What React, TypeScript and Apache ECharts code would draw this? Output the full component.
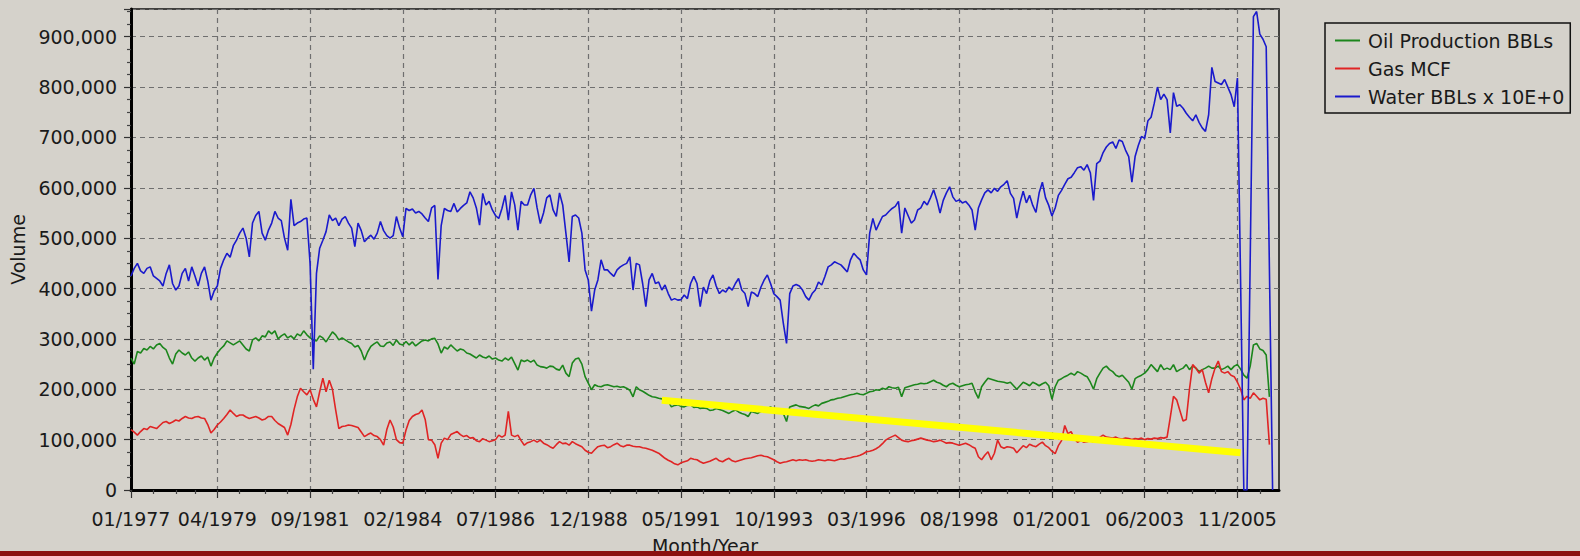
import React, { useEffect, useRef } from 'react';
import * as echarts from 'echarts';

// ---- categories / ticks ----
const START_YEAR = 1977;
const MONTH_COUNT = 360; // 01/1977 .. 12/2006
const MAJOR_TICKS = [0, 27, 56, 85, 114, 143, 172, 201, 230, 259, 288, 317, 346];
const MINOR_OFFSETS_FIRST = [7, 14, 20];
const MINOR_OFFSETS = [7, 15, 22];
const Y_MAX = 955; // thousands
const Y_STEP = 100;

// ---- series values (thousands), monthly from 01/1977 ----
const WATER = [
  425, 440, 450, 435, 430, 440, 443, 425, 420, 415,
  405, 430, 447, 410, 397, 405, 430, 440, 415, 443,
  425, 405, 430, 443, 415, 377, 395, 405, 440, 457,
  470, 462, 485, 496, 510, 520, 500, 463, 530, 545,
  553, 510, 496, 516, 530, 553, 540, 535, 500, 476,
  577, 525, 530, 533, 538, 540, 450, 240, 430, 480,
  496, 513, 546, 535, 540, 525, 538, 543, 530, 520,
  483, 530, 515, 493, 500, 506, 498, 510, 533, 515,
  505, 500, 505, 543, 520, 503, 559, 555, 558, 550,
  553, 548, 540, 533, 560, 565, 418, 525, 559, 555,
  553, 569, 552, 559, 565, 570, 592, 580, 560, 526,
  589, 566, 573, 556, 545, 539, 559, 585, 536, 592,
  566, 516, 573, 566, 566, 586, 599, 560, 529, 550,
  580, 586, 556, 543, 590, 566, 510, 453, 543, 546,
  540, 510, 437, 417, 355, 397, 417, 457, 437, 437,
  430, 424, 437, 443, 447, 450, 463, 397, 450, 447,
  410, 364, 417, 430, 410, 413, 397, 407, 390, 377,
  380, 377, 378, 387, 380, 410, 424, 410, 364, 403,
  390, 415, 427, 405, 390, 397, 393, 403, 397, 410,
  420, 397, 390, 364, 393, 390, 384, 403, 417, 427,
  410, 390, 384, 377, 331, 291, 390, 405, 408, 405,
  397, 384, 377, 390, 397, 413, 407, 424, 443, 447,
  453, 450, 447, 440, 433, 457, 470, 463, 457, 437,
  427, 510, 539, 516, 530, 543, 546, 553, 559, 563,
  573, 510, 560, 545, 530, 536, 556, 560, 573, 566,
  580, 596, 576, 550, 575, 590, 602, 582, 573, 576,
  570, 573, 566, 556, 516, 560, 576, 590, 596, 590,
  599, 593, 602, 607, 614, 589, 579, 540, 570, 593,
  570, 585, 565, 551, 590, 611, 580, 565, 544, 560,
  585, 595, 607, 618, 621, 630, 640, 642, 635, 646,
  630, 575, 648, 653, 670, 681, 688, 691, 678, 695,
  692, 675, 662, 611, 662, 684, 702, 698, 733, 740,
  768, 800, 775, 786, 775, 709, 789, 762, 765, 758,
  748, 740, 733, 745, 730, 719, 712, 745, 839, 811,
  808, 805, 815, 800, 785, 761, 818, 411, 0, 0,
  460, 940, 950, 905, 895, 880, 440, 0,
];

const OIL = [
  262, 250, 275, 272, 281, 278, 285, 280, 288, 291,
  283, 278, 262, 250, 270, 278, 272, 268, 274, 262,
  256, 262, 266, 258, 264, 246, 262, 272, 280, 286,
  296, 292, 288, 292, 296, 288, 280, 276, 298, 302,
  296, 306, 304, 316, 310, 316, 300, 306, 310, 302,
  306, 300, 310, 306, 316, 308, 302, 298, 296, 306,
  302, 294, 304, 314, 308, 298, 302, 298, 294, 291,
  284, 287, 276, 258, 274, 285, 290, 294, 286, 285,
  292, 294, 287, 298, 290, 288, 295, 288, 294, 286,
  291, 296, 298, 296, 300, 301, 290, 272, 284, 280,
  288, 282, 276, 280, 278, 272, 270, 266, 262, 268,
  264, 262, 266, 260, 262, 258, 256, 262, 258, 264,
  251, 238, 258, 255, 258, 254, 258, 248, 245, 244,
  242, 246, 245, 240, 238, 248, 232, 225, 252, 260,
  262, 250, 225, 212, 199, 209, 206, 205, 208, 209,
  207, 205, 206, 204, 205, 202, 198, 185, 205, 199,
  196, 192, 188, 185, 184, 182, 181, 179, 176, 165,
  168, 169, 166, 165, 168, 169, 164, 165, 162, 163,
  162, 158, 159, 162, 160, 158, 155, 152, 156, 159,
  155, 152, 150, 146, 156, 154, 152, 156, 159, 162,
  165, 160, 159, 156, 152, 136, 165, 167, 169, 166,
  165, 164, 162, 166, 169, 167, 172, 174, 176, 179,
  180, 182, 183, 185, 187, 189, 190, 192, 190, 189,
  192, 195, 196, 199, 198, 202, 200, 205, 203, 202,
  204, 185, 203, 205, 207, 209, 210, 212, 211, 212,
  215, 218, 214, 212, 208, 205, 210, 212, 208, 205,
  207, 209, 210, 212, 195, 182, 205, 214, 222, 220,
  218, 216, 215, 214, 212, 214, 207, 200, 207, 214,
  211, 207, 214, 211, 207, 211, 214, 207, 180, 205,
  218, 221, 225, 228, 232, 228, 235, 232, 228, 225,
  214, 200, 221, 232, 242, 246, 239, 235, 228, 225,
  228, 221, 214, 200, 221, 225, 228, 232, 239, 249,
  242, 235, 249, 239, 242, 239, 249, 235, 239, 242,
  249, 239, 246, 242, 235, 239, 242, 246, 242, 242,
  246, 239, 242, 246, 239, 246, 249, 240, 228, 222,
  246, 288, 291, 280, 277, 268, 185,
];

const GAS = [
  120, 115, 109, 116, 122, 120, 126, 124, 122, 128,
  134, 136, 132, 135, 139, 137, 142, 146, 143, 142,
  145, 146, 143, 142, 130, 113, 120, 129, 135, 142,
  150, 159, 152, 146, 149, 149, 145, 142, 144, 146,
  143, 139, 141, 146, 146, 138, 132, 128, 124, 109,
  130, 160, 185, 202, 195, 189, 199, 180, 165, 195,
  222, 195, 218, 200, 159, 122, 126, 127, 129, 128,
  126, 124, 115, 106, 110, 113, 108, 106, 100, 89,
  120, 139, 125, 100, 94, 93, 119, 138, 146, 150,
  152, 159, 140, 100, 99, 90, 63, 93, 103, 100,
  110, 113, 116, 110, 106, 108, 103, 104, 98, 96,
  102, 99, 96, 98, 100, 109, 105, 109, 156, 109,
  106, 109, 98, 89, 94, 96, 99, 95, 99, 93,
  90, 86, 83, 90, 96, 92, 93, 89, 96, 92,
  89, 86, 79, 75, 73, 80, 86, 88, 89, 84,
  86, 90, 93, 88, 86, 89, 89, 87, 86, 86,
  84, 83, 81, 79, 76, 73, 68, 63, 59, 56,
  52, 50, 54, 56, 58, 63, 61, 60, 56, 53,
  55, 57, 60, 63, 58, 56, 60, 63, 58, 56,
  58, 60, 62, 63, 64, 66, 68, 69, 67, 66,
  63, 60, 56, 53, 55, 56, 58, 60, 58, 60,
  59, 60, 58, 57, 58, 60, 59, 58, 60, 59,
  58, 60, 62, 61, 63, 64, 66, 67, 69, 72,
  76, 77, 79, 82, 86, 92, 99, 103, 106, 109,
  104, 99, 97, 96, 98, 99, 101, 103, 101, 99,
  98, 96, 97, 99, 96, 93, 94, 93, 91, 89,
  91, 93, 90, 86, 83, 66, 60, 69, 76, 60,
  73, 99, 86, 83, 86, 85, 83, 74, 81, 88,
  84, 91, 88, 86, 91, 95, 88, 84, 77, 72,
  88, 98, 128, 112, 116, 102, 95, 98, 95, 96,
  98, 95, 102, 105, 109, 105, 104, 103, 105, 102,
  101, 103, 102, 100, 102, 101, 103, 100, 102, 101,
  103, 102, 104, 103, 105, 144, 186, 179, 158, 137,
  140, 200, 249, 242, 232, 239, 214, 193, 221, 242,
  256, 235, 232, 235, 228, 225, 214, 200, 179, 186,
  182, 193, 186, 179, 182, 180, 90,
];

// highlighted trend annotation: [month index, value in thousands]
const TREND_LINE = [
  [166, 178],
  [347, 74],
];

const SERIES_NAMES = ['Oil Production BBLs', 'Gas MCF', 'Water BBLs x 10E+0'];
const COLORS = { oil: '#1C861C', gas: '#E02424', water: '#1A1ACC', trend: '#FFFF00' };

const FONT = "'DejaVu Sans', Verdana, sans-serif";
const FONT_SIZE = 19;
const BG = '#D5D2CB';

const categories: string[] = [];
for (let i = 0; i < MONTH_COUNT; i++) {
  const m = (i % 12) + 1;
  const y = START_YEAR + Math.floor(i / 12);
  categories.push(`${m < 10 ? '0' + m : m}/${y}`);
}
const majorSet = new Set(MAJOR_TICKS);
const minorSet = new Set<number>();
MAJOR_TICKS.forEach((m, k) => {
  const offs = k === 0 ? MINOR_OFFSETS_FIRST : MINOR_OFFSETS;
  offs.forEach((o) => {
    if (m + o < MONTH_COUNT) minorSet.add(m + o);
  });
});

export default function App() {
  const ref = useRef<HTMLDivElement>(null);
  useEffect(() => {
    if (!ref.current) return;
    const chart = echarts.init(ref.current, undefined, { renderer: 'svg' });
    const dashed = { color: '#6f6f6f', type: [5, 4] as number[], width: 1.2 };
    const lineSeries = (name: string, data: number[], color: string) => ({
      name,
      type: 'line',
      data,
      xAxisIndex: 0,
      yAxisIndex: 0,
      symbol: 'none',
      showSymbol: false,
      lineStyle: { color, width: 1.6 },
      itemStyle: { color },
      emphasis: { disabled: true },
    });
    chart.setOption({
      animation: false,
      backgroundColor: BG,
      textStyle: { fontFamily: FONT },
      grid: {
        left: 131,
        right: 301,
        top: 9,
        bottom: 66,
        containLabel: false,
        outerBoundsMode: 'none',
        show: true,
        borderColor: '#111',
        borderWidth: 1.5,
        backgroundColor: 'transparent',
      },
      legend: {
        data: SERIES_NAMES,
        orient: 'vertical',
        left: 1325,
        top: 23,
        padding: [7, 6, 6, 10],
        itemGap: 7,
        itemWidth: 25,
        itemHeight: 2,
        icon: 'rect',
        borderColor: '#111',
        borderWidth: 1.5,
        backgroundColor: BG,
        textStyle: {
          fontFamily: FONT,
          fontSize: FONT_SIZE,
          lineHeight: 21,
          color: '#1a1a1a',
          padding: [0, 0, 0, 3],
        },
      },
      xAxis: [
        {
          type: 'category',
          data: categories,
          boundaryGap: false,
          name: 'Month/Year',
          nameLocation: 'middle',
          nameGap: 46,
          nameTextStyle: { fontSize: FONT_SIZE, color: '#1a1a1a', fontFamily: FONT, verticalAlign: 'top' },
          axisLine: { onZero: false, lineStyle: { color: '#000', width: 3 } },
          axisTick: {
            interval: (i: number) => majorSet.has(i),
            length: 8,
            lineStyle: { color: '#333', width: 1.2 },
          },
          axisLabel: {
            interval: (i: number) => majorSet.has(i),
            margin: 19,
            fontSize: FONT_SIZE,
            color: '#1a1a1a',
            fontFamily: FONT,
          },
          splitLine: {
            show: true,
            interval: (i: number) => majorSet.has(i) && i > 0,
            lineStyle: dashed,
          },
        },
        {
          type: 'category',
          data: categories,
          boundaryGap: false,
          position: 'bottom',
          axisLine: { show: false, onZero: false },
          axisTick: {
            interval: (i: number) => minorSet.has(i),
            length: 4,
            lineStyle: { color: '#444', width: 1.2 },
          },
          axisLabel: { show: false },
          splitLine: { show: false },
        },
      ],
      yAxis: {
        type: 'value',
        min: 0,
        max: Y_MAX,
        interval: Y_STEP,
        name: 'Volume',
        nameLocation: 'middle',
        nameGap: 98,
        nameTextStyle: { fontSize: FONT_SIZE, color: '#1a1a1a', fontFamily: FONT },
        axisLine: { show: true, lineStyle: { color: '#000', width: 3 } },
        axisTick: { show: true, length: 7, lineStyle: { color: '#333', width: 1.2 } },
        minorTick: { show: true, splitNumber: 4, length: 4, lineStyle: { color: '#444', width: 1.2 } },
        axisLabel: {
          margin: 14,
          fontSize: FONT_SIZE,
          color: '#1a1a1a',
          fontFamily: FONT,
          showMaxLabel: false,
          formatter: (v: number) => (v === 0 ? '0' : (v * 1000).toLocaleString('en-US')),
        },
        splitLine: { show: true, lineStyle: dashed },
      },
      series: [
        lineSeries(SERIES_NAMES[0], OIL, COLORS.oil),
        lineSeries(SERIES_NAMES[1], GAS, COLORS.gas),
        lineSeries(SERIES_NAMES[2], WATER, COLORS.water),
        {
          name: 'trend',
          type: 'line',
          data: TREND_LINE,
          symbol: 'none',
          showSymbol: false,
          z: 5,
          lineStyle: { color: COLORS.trend, width: 7, cap: 'butt' },
          itemStyle: { color: COLORS.trend },
          emphasis: { disabled: true },
        },
      ],
      graphic: [
        {
          type: 'rect',
          z: 100,
          shape: { x: 0, y: 551, width: 1580, height: 5 },
          style: { fill: '#8C0F0F' },
        },
      ],
    });
    return () => chart.dispose();
  }, []);
  return (
    <div
      ref={ref}
      style={{ position: 'fixed', left: 0, top: 0, width: 1580, height: 556 }}
    />
  );
}
